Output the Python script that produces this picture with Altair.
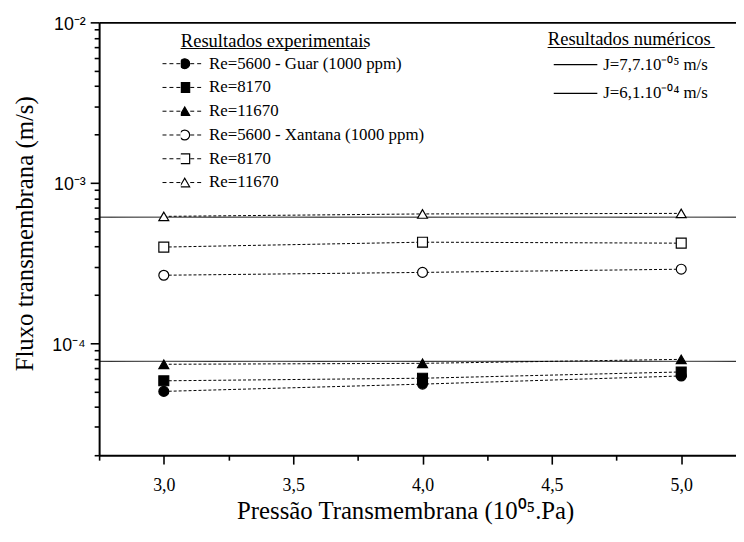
import altair as alt
import pandas as pd

# ---------------- data ----------------
pressao = [3.0, 4.0, 5.0]
guar_5600 = [5.00e-5, 5.55e-5, 6.24e-5]
guar_8170 = [5.82e-5, 6.04e-5, 6.61e-5]
guar_11670 = [7.38e-5, 7.48e-5, 7.92e-5]
xant_5600 = [2.65e-4, 2.76e-4, 2.89e-4]
xant_8170 = [3.97e-4, 4.26e-4, 4.20e-4]
xant_11670 = [6.17e-4, 6.39e-4, 6.44e-4]

serie_keys = ["g5600", "g8170", "g11670", "x5600", "x8170", "x11670"]
serie_labels = ["Re=5600 - Guar (1000 ppm)", "Re=8170", "Re=11670",
                "Re=5600 - Xantana (1000 ppm)", "Re=8170", "Re=11670"]
serie_shapes = ["circle", "square", "triangle-up", "circle", "square", "triangle-up"]
serie_fills = ["black", "black", "black", "white", "white", "white"]
serie_sizes = [100, 100, 140, 100, 100, 140]

num_labels = ["J=7,7.10\u207b\u2070\u2075 m/s", "J=6,1.10\u207b\u2070\u2074 m/s"]
num_values = [7.7e-5, 6.1e-4]

x_ticks = [2.75, 3.0, 3.25, 3.5, 3.75, 4.0, 4.25, 4.5, 4.75, 5.0, 5.25]
y_ticks = [1e-2, 9e-3, 8e-3, 7e-3, 6e-3, 5e-3, 4e-3, 3e-3, 2e-3,
           1e-3, 9e-4, 8e-4, 7e-4, 6e-4, 5e-4, 4e-4, 3e-4, 2e-4,
           1e-4, 9e-5, 8e-5, 7e-5, 6e-5, 5e-5, 4e-5, 3e-5, 2e-5]

title_exp = "Resultados experimentais"
title_num = "Resultados num\u00e9ricos"
x_title = "Press\u00e3o Transmembrana (10\u2070\u2075.Pa)"
y_title = "Fluxo transmembrana (m/s)"

# ---------------- tables ----------------
rows = []
for k, vals in zip(serie_keys, [guar_5600, guar_8170, guar_11670, xant_5600, xant_8170, xant_11670]):
    for p, v in zip(pressao, vals):
        rows.append({"serie": k, "linha": k + "_l", "p": p, "j": v})
df = pd.DataFrame(rows)
df_num = pd.DataFrame({"sim": num_labels, "j": num_values})

SERIF = "Liberation Serif"
SANS = "Liberation Sans"

X_MAJOR = "abs(datum.value*2 - round(datum.value*2)) < 0.001"
Y_EXP = "round(log(datum.value)/LN10)"
Y_MAJOR = f"abs(log(datum.value)/LN10 - {Y_EXP}) < 0.001"
y_label_expr = (f"{Y_MAJOR} ? ({Y_EXP} == -2 ? '10\u207b\u00b2' : {Y_EXP} == -3 ? "
                f"'10\u207b\u00b3' : '10\u207b\u2074') : ''")
x_label_expr = f"{X_MAJOR} ? replace(format(datum.value, '.1f'), '.', ',') : ''"
serie_label_expr = " : ".join(f"datum.label == '{k}' ? '{l}'" for k, l in zip(serie_keys, serie_labels)) + " : ''"

x_scale = alt.Scale(domain=[2.75, 5.25], range=[0, 653], nice=False, zero=False)
y_scale = alt.Scale(type="log", domain=[2e-5, 1e-2], nice=False)

y_axis = alt.Axis(values=y_ticks, title=y_title, labelExpr=y_label_expr,
                  tickSize={"condition": {"test": Y_MAJOR, "value": 9}, "value": 5},
                  tickWidth=1.6, tickColor="black", domainColor="black", domainWidth=2,
                  labelFont=SANS, labelFontSize=18, labelColor="black", labelPadding=5,
                  labelOverlap=False, labelFlush=False, labelBound=False, labelOffset=2,
                  grid=False, orient="left",
                  titleFont=SERIF, titleFontSize=25, titleFontWeight="normal", titleColor="black",
                  titleAngle=270, titleBaseline="alphabetic", titleAlign="center",
                  titleX=-67, titleY=213)

x_axis_bottom = alt.Axis(values=x_ticks, title=x_title, labelExpr=x_label_expr,
                         tickSize={"condition": {"test": X_MAJOR, "value": 9}, "value": 5},
                         tickWidth=1.6, tickColor="black", domainColor="black", domainWidth=2,
                         labelFont=SERIF, labelFontSize=18, labelColor="black", labelPadding=13,
                         labelOverlap=False, labelFlush=False, labelBound=False,
                         grid=False, orient="bottom",
                         titleFont=SERIF, titleFontSize=25, titleFontWeight="normal",
                         titleColor="black", titleBaseline="alphabetic", titleAlign="center",
                         titleX=309, titleY=64)

x_axis_top = alt.Axis(orient="top", labels=False, ticks=False, title=None, grid=False,
                      domainColor="black", domainWidth=2)

legend_common = dict(orient="none", padding=0, direction="vertical",
                     titleFont=SERIF, titleFontSize=18.7, titleFontWeight="normal",
                     titleColor="black", titleLimit=400, titleLineHeight=0.5, titlePadding=1,
                     titleBaseline="top", titleAlign="left",
                     labelFont=SERIF, labelFontSize=17, labelColor="black", labelLimit=400,
                     rowPadding=0)

exp_title = [title_exp, "_" * 20]
num_title = [title_num, "_" * 18]

dash_legend = alt.Legend(legendX=63.5, legendY=9.5, title=[" ", " "],
                         symbolType="stroke", symbolSize=1600, symbolDash=[4, 3],
                         symbolStrokeWidth=1, symbolStrokeColor="black",
                         labelExpr="''", clipHeight=24, **legend_common)

marker_legend = alt.Legend(legendX=82.5, legendY=9.5, title=exp_title, labelExpr=serie_label_expr,
                           symbolStrokeWidth=1.2, symbolOpacity=1,
                           symbolOffset=-4.6, labelOffset=16, clipHeight=24, **legend_common)

num_legend = alt.Legend(legendX=453, legendY=8, title=num_title, symbolType="stroke",
                        symbolSize=1936, symbolStrokeWidth=1.2, symbolStrokeColor="black",
                        symbolOffset=5, labelOffset=5, clipHeight=29, **legend_common)

rules = alt.Chart(df_num).mark_rule(strokeWidth=1, color="black").encode(
    y=alt.Y("j:Q", scale=y_scale, axis=y_axis),
    strokeDash=alt.StrokeDash("sim:N", scale=alt.Scale(domain=num_labels, range=[[1, 0], [1, 0]]),
                              legend=num_legend),
)

lines = alt.Chart(df).mark_line(strokeDash=[3, 2], strokeWidth=1).encode(
    x=alt.X("p:Q", scale=x_scale, axis=x_axis_bottom),
    y=alt.Y("j:Q", scale=y_scale, axis=y_axis),
    color=alt.Color("linha:N", scale=alt.Scale(domain=[k + "_l" for k in serie_keys],
                                               range=["black"] * 6),
                    legend=dash_legend),
)

points = alt.Chart(df).mark_point(filled=True, opacity=1, strokeWidth=1.2).encode(
    x=alt.X("p:Q", scale=x_scale, axis=x_axis_top),
    y=alt.Y("j:Q", scale=y_scale, axis=y_axis),
    stroke=alt.Stroke("serie:N", scale=alt.Scale(domain=serie_keys, range=["black"] * 6),
                      legend=marker_legend),
    shape=alt.Shape("serie:N", scale=alt.Scale(domain=serie_keys, range=serie_shapes),
                    legend=marker_legend),
    fill=alt.Fill("serie:N", scale=alt.Scale(domain=serie_keys, range=serie_fills),
                  legend=marker_legend),
    size=alt.Size("serie:N", scale=alt.Scale(domain=serie_keys, range=serie_sizes),
                  legend=marker_legend),
)

chart = alt.layer(rules, lines, points).resolve_axis(x="independent").properties(
    width=643, height=437,
    padding={"left": 92, "top": 12, "right": 0, "bottom": 73},
    autosize=alt.AutoSizeParams(type="none"),
    background="white",
).configure_view(stroke=None)

chart.save("out.html", embed_options={"renderer": "svg", "actions": False})
